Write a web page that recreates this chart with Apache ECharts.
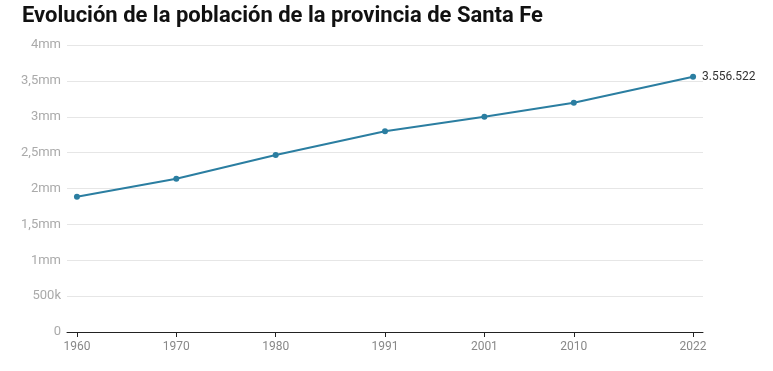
<!DOCTYPE html>
<html><head><meta charset="utf-8">
<script src="https://cdn.jsdelivr.net/npm/echarts@6/dist/echarts.min.js"></script>
<style>html,body{margin:0;padding:0;background:#fff}#c{width:773px;height:371px}</style>
</head><body><div id="c"></div>
<script>
const years = [1960, 1970, 1980, 1991, 2001, 2010, 2022];
const population = [1884918, 2135583, 2465546, 2798422, 3000701, 3194537, 3556522];
const yTicks = [0, 500000, 1000000, 1500000, 2000000, 2500000, 3000000, 3500000, 4000000];
const yTickLabels = ['0', '500k', '1mm', '1,5mm', '2mm', '2,5mm', '3mm', '3,5mm', '4mm'];
const titleText = 'Evolución de la población de la provincia de Santa Fe';
const lastLabel = '3.556.522';

const chart = echarts.init(document.getElementById('c'), null, {renderer: 'canvas'});
chart.setOption({
  animation: false,
  backgroundColor: '#fff',
  title: {
    text: titleText, left: 17, top: 0,
    textStyle: {fontFamily: 'Roboto', fontWeight: 'bold', fontSize: 22, color: '#111'}
  },
  grid: {left: 67, right: 70, top: 45, bottom: 39},
  xAxis: {
    type: 'value', min: 1959, max: 2023,
    axisLine: {show: true, lineStyle: {color: '#222', width: 1}},
    axisTick: {show: true, customValues: years, length: 5, lineStyle: {color: '#222'}},
    axisLabel: {customValues: years, color: '#888', fontFamily: 'Roboto', fontSize: 12, margin: 9,
      formatter: v => String(v)},
    splitLine: {show: false}
  },
  yAxis: {
    type: 'value', min: 0, max: 4000000, interval: 500000,
    axisLine: {show: false}, axisTick: {show: false},
    axisLabel: {color: '#aaa', fontFamily: 'Roboto', fontSize: 13, margin: 6,
      formatter: v => yTickLabels[yTicks.indexOf(v)] ?? ''},
    splitLine: {lineStyle: {color: '#e6e6e6', width: 1}}
  },
  series: [{
    type: 'line',
    data: years.map((y, i) => [y, population[i]]),
    symbol: 'circle', symbolSize: 6,
    lineStyle: {color: '#2b7ea1', width: 2},
    itemStyle: {color: '#2b7ea1'},
    label: {
      show: true, position: 'right', distance: 6, color: '#333', fontFamily: 'Roboto', fontSize: 12,
      formatter: p => p.dataIndex === years.length - 1 ? lastLabel : ''
    }
  }]
});
</script></body></html>
